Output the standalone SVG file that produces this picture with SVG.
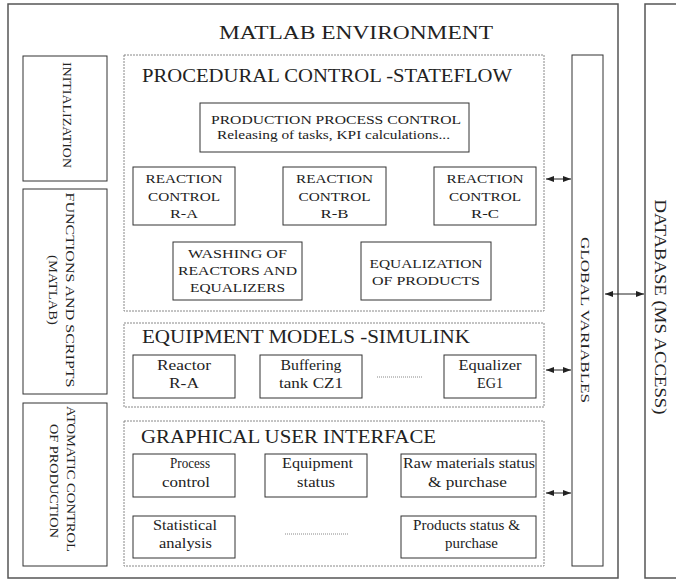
<svg xmlns="http://www.w3.org/2000/svg" width="676" height="580" viewBox="0 0 676 580">
<style>
text{font-family:"Liberation Serif","DejaVu Serif",serif;fill:#222;}
.t{font-size:19px;}
.s{font-size:13.5px;}
.m{font-size:14px;}
.outer{fill:none;stroke:#555;stroke-width:1.5;}
.box{fill:#fff;stroke:#333;stroke-width:1;}
.dash{fill:none;stroke:#888;stroke-width:1;stroke-dasharray:2,1;}
.dot{stroke:#888;stroke-width:1;stroke-dasharray:1,1;}
.con{stroke:#222;stroke-width:1;fill:none;marker-start:url(#ah);marker-end:url(#ah);}
</style>
<defs>
<marker id="ah" viewBox="0 0 8 6" refX="8" refY="3" markerWidth="8" markerHeight="6" markerUnits="userSpaceOnUse" orient="auto-start-reverse">
<path d="M0,0 L8,3 L0,6 z" fill="#222"/>
</marker>
</defs>
<rect width="676" height="580" fill="#fff"/>

<g id="matlab">
<rect class="outer" x="8" y="4" width="610" height="574"/>
<text class="t" x="219" y="39" textLength="274" lengthAdjust="spacingAndGlyphs">MATLAB ENVIRONMENT</text>
</g>
<g id="database">
<rect class="outer" x="645" y="4" width="40" height="574"/>
<text style="font-size:17px" transform="translate(655,307) rotate(90)" text-anchor="middle" textLength="215" lengthAdjust="spacingAndGlyphs">DATABASE (MS ACCESS)</text>
</g>

<g id="initialization">
<rect class="box" x="23" y="56" width="84" height="125"/>
<text class="s" transform="translate(63,115) rotate(90)" text-anchor="middle" textLength="106" lengthAdjust="spacingAndGlyphs">INITIALIZATION</text>
</g>
<g id="functions">
<rect class="box" x="23" y="189" width="84" height="205"/>
<text class="s" transform="translate(66,290) rotate(90)" text-anchor="middle" textLength="195" lengthAdjust="spacingAndGlyphs">FUNCTIONS AND SCRIPTS</text>
<text class="s" transform="translate(49,290) rotate(90)" text-anchor="middle" textLength="70" lengthAdjust="spacingAndGlyphs">(MATLAB)</text>
</g>
<g id="automatic">
<rect class="box" x="23" y="403" width="84" height="163"/>
<text class="s" transform="translate(67,479) rotate(90)" text-anchor="middle" textLength="146" lengthAdjust="spacingAndGlyphs">ATOMATIC CONTROL</text>
<text class="s" transform="translate(50,481) rotate(90)" text-anchor="middle" textLength="114" lengthAdjust="spacingAndGlyphs">OF PRODUCTION</text>
</g>

<g id="global">
<rect class="box" x="572" y="55" width="31" height="511"/>
<text class="s" transform="translate(581,320) rotate(90)" text-anchor="middle" textLength="166" lengthAdjust="spacingAndGlyphs">GLOBAL VARIABLES</text>
</g>

<g id="procedural">
<rect class="dash" x="124" y="55" width="420" height="256"/>
<text class="t" x="142" y="82" textLength="370" lengthAdjust="spacingAndGlyphs">PROCEDURAL CONTROL -STATEFLOW</text>
</g>
<g id="ppc">
<rect class="box" x="200" y="103" width="269" height="49"/>
<text class="s" x="211" y="124" textLength="250" lengthAdjust="spacingAndGlyphs">PRODUCTION PROCESS CONTROL</text>
<text class="s" x="217" y="139" textLength="233" lengthAdjust="spacingAndGlyphs">Releasing of tasks, KPI calculations...</text>
</g>
<g id="rca">
<rect class="box" x="133" y="167" width="102" height="58"/>
<text class="s" x="184" y="183" text-anchor="middle" textLength="77" lengthAdjust="spacingAndGlyphs">REACTION</text>
<text class="s" x="184" y="201" text-anchor="middle" textLength="72" lengthAdjust="spacingAndGlyphs">CONTROL</text>
<text class="s" x="184" y="218" text-anchor="middle" textLength="28" lengthAdjust="spacingAndGlyphs">R-A</text>
</g>
<g id="rcb">
<rect class="box" x="283" y="167" width="103" height="58"/>
<text class="s" x="334.5" y="183" text-anchor="middle" textLength="77" lengthAdjust="spacingAndGlyphs">REACTION</text>
<text class="s" x="334.5" y="201" text-anchor="middle" textLength="72" lengthAdjust="spacingAndGlyphs">CONTROL</text>
<text class="s" x="334.5" y="218" text-anchor="middle" textLength="28" lengthAdjust="spacingAndGlyphs">R-B</text>
</g>
<g id="rcc">
<rect class="box" x="434" y="167" width="102" height="58"/>
<text class="s" x="485" y="183" text-anchor="middle" textLength="77" lengthAdjust="spacingAndGlyphs">REACTION</text>
<text class="s" x="485" y="201" text-anchor="middle" textLength="72" lengthAdjust="spacingAndGlyphs">CONTROL</text>
<text class="s" x="485" y="218" text-anchor="middle" textLength="28" lengthAdjust="spacingAndGlyphs">R-C</text>
</g>
<g id="washing">
<rect class="box" x="173" y="242" width="129" height="58"/>
<text class="s" x="237.5" y="258" text-anchor="middle" textLength="99" lengthAdjust="spacingAndGlyphs">WASHING OF</text>
<text class="s" x="237.5" y="275" text-anchor="middle" textLength="119" lengthAdjust="spacingAndGlyphs">REACTORS AND</text>
<text class="s" x="237.5" y="292" text-anchor="middle" textLength="95" lengthAdjust="spacingAndGlyphs">EQUALIZERS</text>
</g>
<g id="equalization">
<rect class="box" x="361" y="242" width="130" height="58"/>
<text class="s" x="426" y="268" text-anchor="middle" textLength="113" lengthAdjust="spacingAndGlyphs">EQUALIZATION</text>
<text class="s" x="426" y="285" text-anchor="middle" textLength="108" lengthAdjust="spacingAndGlyphs">OF PRODUCTS</text>
</g>

<g id="equipment">
<rect class="dash" x="124" y="323" width="420" height="84"/>
<text class="t" x="142" y="343" textLength="328" lengthAdjust="spacingAndGlyphs">EQUIPMENT MODELS -SIMULINK</text>
</g>
<g id="reactor">
<rect class="box" x="133" y="355" width="102" height="43"/>
<text class="m" x="184" y="370" text-anchor="middle" textLength="54" lengthAdjust="spacingAndGlyphs">Reactor</text>
<text class="m" x="184" y="388" text-anchor="middle" textLength="30" lengthAdjust="spacingAndGlyphs">R-A</text>
</g>
<g id="buffering">
<rect class="box" x="260" y="355" width="102" height="43"/>
<text class="m" x="311" y="370" text-anchor="middle" textLength="61" lengthAdjust="spacingAndGlyphs">Buffering</text>
<text class="m" x="311" y="388" text-anchor="middle" textLength="64" lengthAdjust="spacingAndGlyphs">tank CZ1</text>
</g>
<g id="equalizer">
<rect class="box" x="444" y="355" width="92" height="43"/>
<text class="m" x="490" y="370" text-anchor="middle" textLength="63" lengthAdjust="spacingAndGlyphs">Equalizer</text>
<text class="m" x="490" y="388" text-anchor="middle" textLength="26" lengthAdjust="spacingAndGlyphs">EG1</text>
</g>

<g id="gui">
<rect class="dash" x="124" y="421" width="420" height="145"/>
<text class="t" x="141" y="443" textLength="295" lengthAdjust="spacingAndGlyphs">GRAPHICAL USER INTERFACE</text>
</g>
<g id="process">
<rect class="box" x="133" y="454" width="102" height="43"/>
<text class="m" x="190" y="468" text-anchor="middle" textLength="40" lengthAdjust="spacingAndGlyphs">Process</text>
<text class="m" x="186" y="487" text-anchor="middle" textLength="48" lengthAdjust="spacingAndGlyphs">control</text>
</g>
<g id="eqstatus">
<rect class="box" x="265" y="454" width="102" height="43"/>
<text class="m" x="317.5" y="468" text-anchor="middle" textLength="71" lengthAdjust="spacingAndGlyphs">Equipment</text>
<text class="m" x="316" y="487" text-anchor="middle" textLength="38" lengthAdjust="spacingAndGlyphs">status</text>
</g>
<g id="raw">
<rect class="box" x="401" y="454" width="135" height="43"/>
<text class="m" x="469" y="468" text-anchor="middle" textLength="132" lengthAdjust="spacingAndGlyphs">Raw materials status</text>
<text class="m" x="467.5" y="487" text-anchor="middle" textLength="79" lengthAdjust="spacingAndGlyphs">&amp; purchase</text>
</g>
<g id="statistical">
<rect class="box" x="133" y="516" width="102" height="42"/>
<text class="m" x="185" y="530" text-anchor="middle" textLength="64" lengthAdjust="spacingAndGlyphs">Statistical</text>
<text class="m" x="185.5" y="548" text-anchor="middle" textLength="53" lengthAdjust="spacingAndGlyphs">analysis</text>
</g>
<g id="products">
<rect class="box" x="401" y="516" width="135" height="42"/>
<text class="m" x="466.5" y="530" text-anchor="middle" textLength="107" lengthAdjust="spacingAndGlyphs">Products status &amp;</text>
<text class="m" x="471.5" y="548" text-anchor="middle" textLength="53" lengthAdjust="spacingAndGlyphs">purchase</text>
</g>

<g id="connectors">
<line class="con" x1="546" y1="179" x2="571" y2="179"/>
<line class="con" x1="546" y1="370" x2="571" y2="370"/>
<line class="con" x1="546" y1="493" x2="571" y2="493"/>
<line class="con" x1="605" y1="294" x2="644" y2="294"/>
<line class="dot" x1="377" y1="377" x2="422" y2="377"/>
<line class="dot" x1="285" y1="534" x2="349" y2="534"/>
</g>
</svg>
